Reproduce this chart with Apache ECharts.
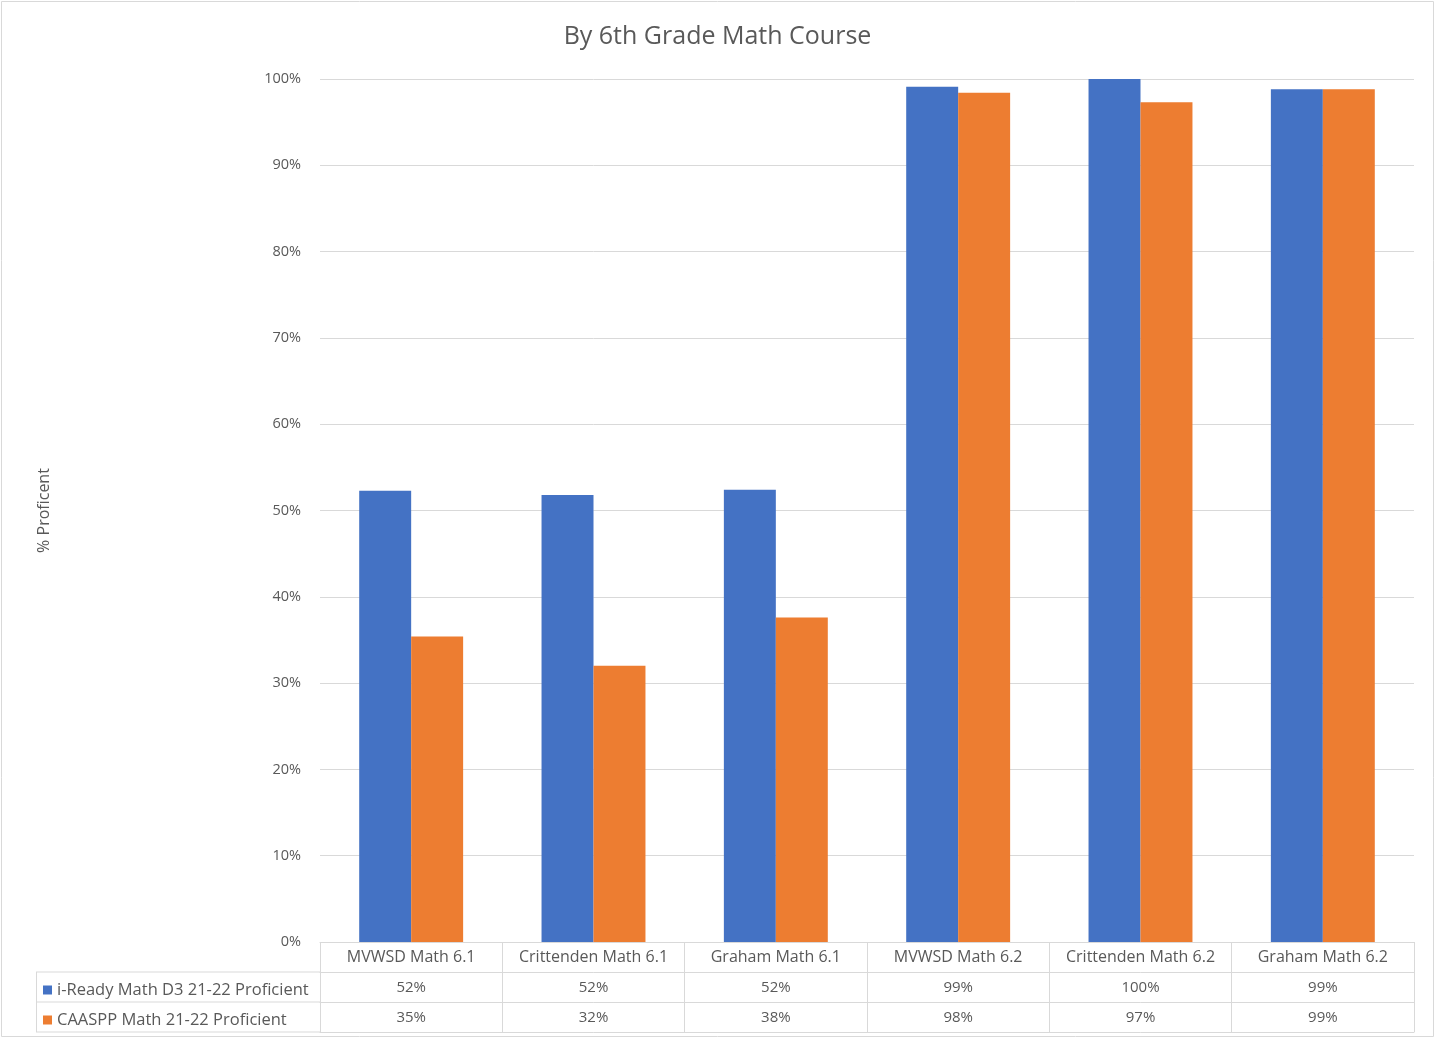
<!DOCTYPE html>
<html>
<head>
<meta charset="utf-8">
<script src="https://cdn.jsdelivr.net/npm/echarts@6/dist/echarts.min.js"></script>
<style>html,body{margin:0;padding:0;background:#fff}#c{width:1435px;height:1038px}</style>
</head>
<body>
<div id="c"></div>
<script>
const categories = ['MVWSD Math 6.1','Crittenden Math 6.1','Graham Math 6.1','MVWSD Math 6.2','Crittenden Math 6.2','Graham Math 6.2'];
const iReady = [52.3, 51.8, 52.4, 99.1, 100, 98.8];
const caaspp = [35.4, 32.0, 37.6, 98.4, 97.3, 98.8];
const seriesNames = ['i-Ready Math D3 21-22 Proficient','CAASPP Math 21-22 Proficient'];
const yTicks = [0,10,20,30,40,50,60,70,80,90,100];

const FONT = 'Open Sans';
const GRAY = '#595959';
const LINE = '#d9d9d9';
const chart = echarts.init(document.getElementById('c'), null, {renderer:'canvas'});
const pct = v => Math.round(v) + '%';

chart.setOption({
  animation:false,
  textStyle:{fontFamily:FONT},
  title:{text:'By 6th Grade Math Course',left:'center',top:19,
    textStyle:{fontFamily:FONT,fontSize:25,fontWeight:'normal',color:GRAY}},
  legend:{orient:'vertical',left:38,top:976,itemGap:12,itemWidth:9,itemHeight:9,icon:'rect',
    data:seriesNames,
    textStyle:{fontFamily:FONT,fontSize:16.5,color:GRAY,lineHeight:18}},
  grid:{left:320,right:21,top:79,bottom:96},
  xAxis:[
    {type:'category',data:categories,position:'bottom',
     axisLine:{show:true,lineStyle:{color:LINE,width:1}},
     axisTick:{show:true,length:90,interval:0,lineStyle:{color:LINE}},
     axisLabel:{interval:0,margin:7,fontSize:16,color:GRAY,fontFamily:FONT}},
    {type:'category',data:categories,position:'bottom',offset:30,
     axisLine:{show:true,lineStyle:{color:LINE}},axisTick:{show:false},
     axisLabel:{interval:0,margin:8,fontSize:15,color:GRAY,fontFamily:FONT,formatter:(v,i)=>pct(iReady[i])}},
    {type:'category',data:categories,position:'bottom',offset:60,
     axisLine:{show:true,lineStyle:{color:LINE}},axisTick:{show:false},
     axisLabel:{interval:0,margin:8,fontSize:15,color:GRAY,fontFamily:FONT,formatter:(v,i)=>pct(caaspp[i])}},
    {type:'category',data:categories,position:'bottom',offset:90,
     axisLine:{show:true,lineStyle:{color:LINE}},axisTick:{show:false},axisLabel:{show:false}}
  ],
  yAxis:{type:'value',min:yTicks[0],max:yTicks[yTicks.length-1],interval:10,
    name:'% Proficent',nameLocation:'middle',nameGap:268,nameRotate:90,
    nameTextStyle:{fontFamily:FONT,fontSize:16,color:GRAY},
    axisLine:{show:false},axisTick:{show:false},
    axisLabel:{formatter:v=>v+'%',fontSize:14.5,color:GRAY,margin:19,fontFamily:FONT},
    splitLine:{lineStyle:{color:LINE,width:1}}},
  series:[
    {name:seriesNames[0],type:'bar',data:iReady,itemStyle:{color:'#4472c4'},barGap:'0%',barCategoryGap:'43%'},
    {name:seriesNames[1],type:'bar',data:caaspp,itemStyle:{color:'#ed7d31'},barGap:'0%',barCategoryGap:'43%'}
  ],
  graphic:[
    {type:'rect',shape:{x:1.5,y:1.5,width:1432,height:1035},style:{fill:null,stroke:LINE,lineWidth:1},silent:true},
    {type:'line',shape:{x1:36,y1:972,x2:320,y2:972},style:{stroke:LINE,lineWidth:1}},
    {type:'line',shape:{x1:36,y1:1002,x2:320,y2:1002},style:{stroke:LINE,lineWidth:1}},
    {type:'line',shape:{x1:36,y1:1032,x2:320,y2:1032},style:{stroke:LINE,lineWidth:1}},
    {type:'line',shape:{x1:36.5,y1:972,x2:36.5,y2:1032},style:{stroke:LINE,lineWidth:1}}
  ]
});
</script>
</body>
</html>
